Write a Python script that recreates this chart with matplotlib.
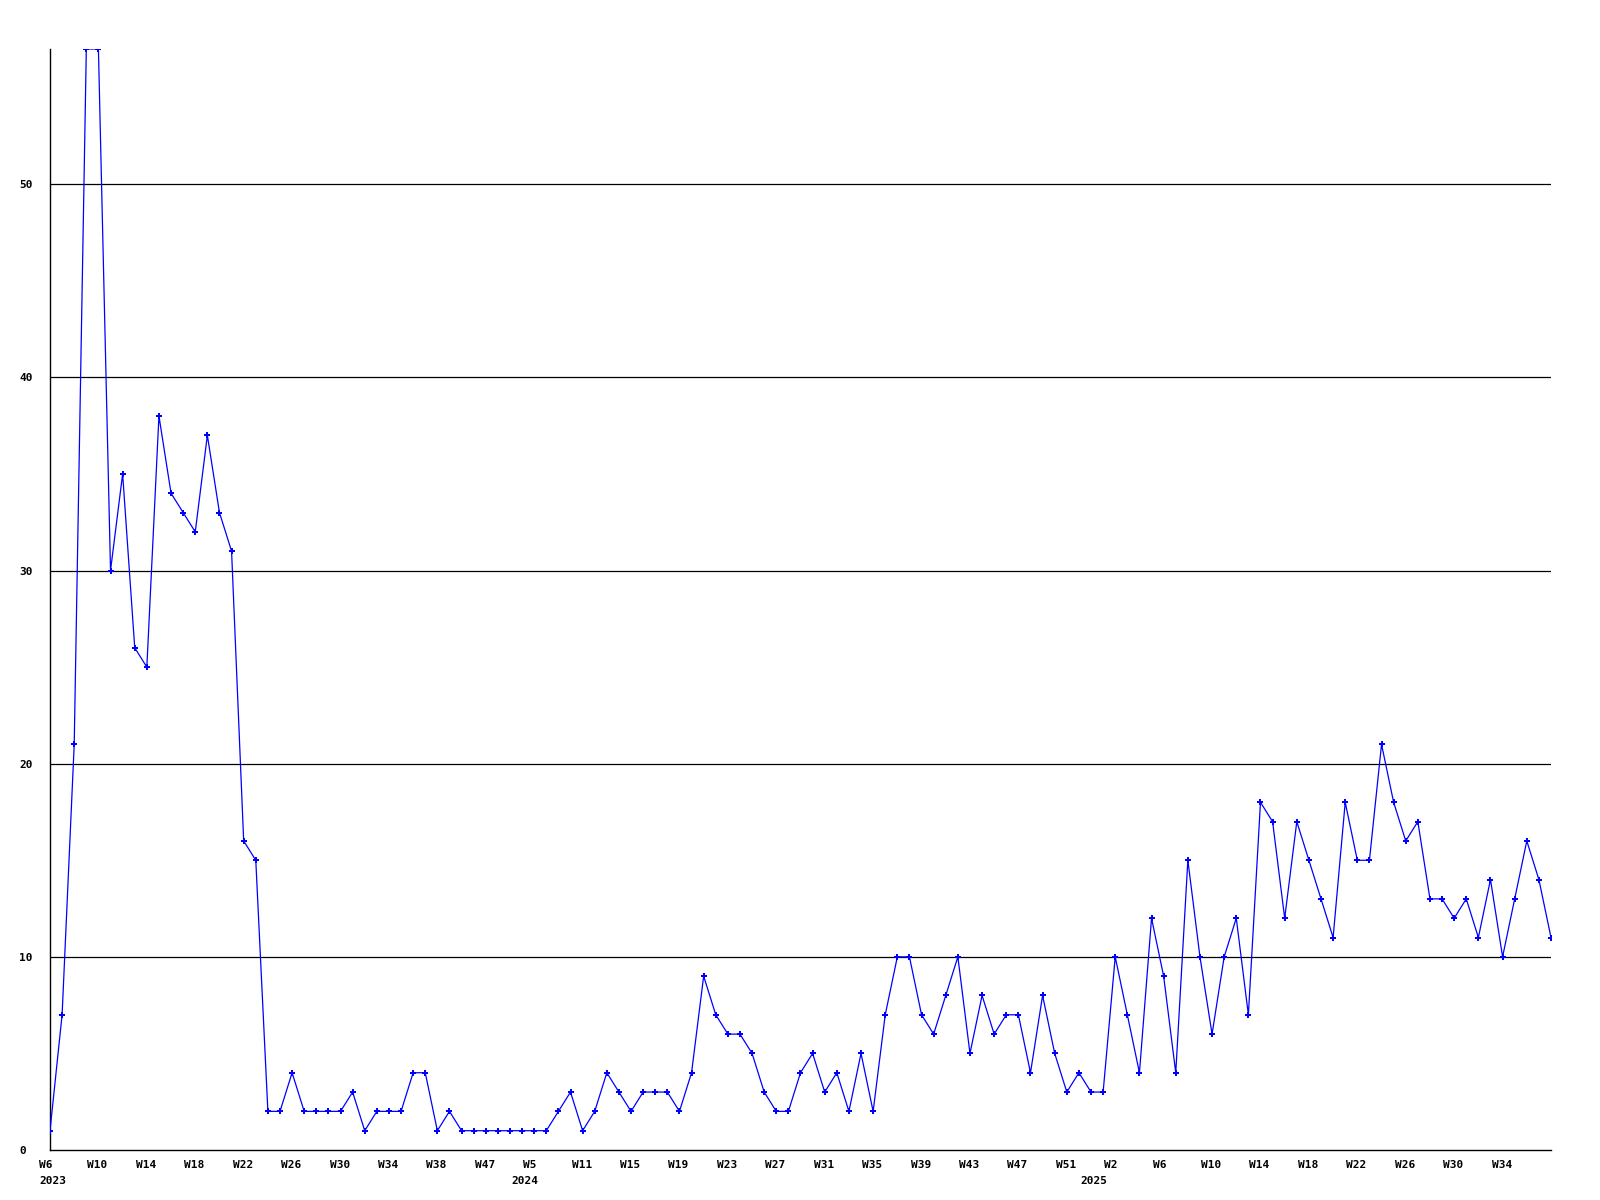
import matplotlib
matplotlib.use("Agg")
import matplotlib.pyplot as plt
from matplotlib.transforms import ScaledTranslation

# weekly counts, one value per point
counts = [1, 7, 21, 57, 57, 30, 35, 26, 25, 38, 34, 33, 32, 37, 33, 31,
          16, 15, 2, 2, 4, 2, 2, 2, 2, 3, 1, 2, 2, 2, 4, 4,
          1, 2, 1, 1, 1, 1, 1, 1, 1, 1, 2, 3, 1, 2, 4, 3,
          2, 3, 3, 3, 2, 4, 9, 7, 6, 6, 5, 3, 2, 2, 4, 5,
          3, 4, 2, 5, 2, 7, 10, 10, 7, 6, 8, 10, 5, 8, 6, 7,
          7, 4, 8, 5, 3, 4, 3, 3, 10, 7, 4, 12, 9, 4, 15, 10,
          6, 10, 12, 7, 18, 17, 12, 17, 15, 13, 11, 18, 15, 15, 21, 18,
          16, 17, 13, 13, 12, 13, 11, 14, 10, 13, 16, 14, 11]

week_labels = ["W6", "W10", "W14", "W18", "W22", "W26", "W30", "W34", "W38", "W47",
               "W5", "W11", "W15", "W19", "W23", "W27", "W31", "W35", "W39", "W43",
               "W47", "W51", "W2", "W6", "W10", "W14", "W18", "W22", "W26", "W30", "W34"]

years = ["2023", "2024", "2025"]
year_index = [0, 39, 86]

y_ticks = [0, 10, 20, 30, 40, 50]

font = {"family": "DejaVu Sans Mono", "weight": "bold", "size": 8}

fig = plt.figure(figsize=(16, 12), dpi=100)
ax = fig.add_axes([50 / 1600, 1 - 1150 / 1200, 1501 / 1600, 1101 / 1200])

x = list(range(len(counts)))
ax.plot(x, counts, color="#0000ff", linewidth=0.9, marker="P", markersize=4,
        markeredgewidth=0, clip_on=True, zorder=3)

ax.set_xlim(0, len(counts) - 1)
ax.set_ylim(0, max(counts))

for s in ["top", "right"]:
    ax.spines[s].set_visible(False)
for s in ["left", "bottom"]:
    ax.spines[s].set_color("black")
    ax.spines[s].set_linewidth(1.0)

ax.set_yticks(y_ticks)
ax.set_yticklabels([str(v) for v in y_ticks], **font)
ax.tick_params(axis="y", length=0, pad=22.3)
for lab in ax.get_yticklabels():
    lab.set_ha("left")
for v in y_ticks[1:]:
    ax.axhline(v, color="black", linewidth=0.9, zorder=1)

ax.set_xticks([i * 4 for i in range(len(week_labels))])
ax.set_xticklabels(week_labels, **font)
ax.tick_params(axis="x", length=0, pad=7)
shift = ScaledTranslation(-11 / 100, 0, fig.dpi_scale_trans)
for lab in ax.get_xticklabels():
    lab.set_ha("left")
    lab.set_transform(lab.get_transform() + shift)

ytrans = ax.get_xaxis_transform() + ScaledTranslation(-11 / 100, -26 / 100, fig.dpi_scale_trans)
for yr, i in zip(years, year_index):
    ax.text(i, 0, yr, transform=ytrans, ha="left", va="top", **font)

plt.savefig("out.png", dpi=100)
